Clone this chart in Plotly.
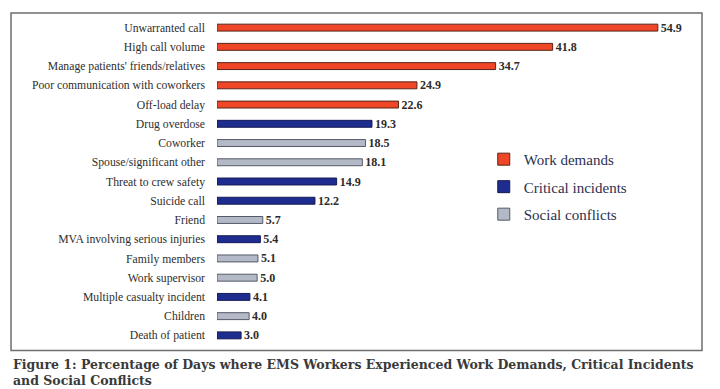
import plotly.graph_objects as go

categories = [
    "Unwarranted call", "High call volume", "Manage patients' friends/relatives",
    "Poor communication with coworkers", "Off-load delay", "Drug overdose",
    "Coworker", "Spouse/significant other", "Threat to crew safety", "Suicide call",
    "Friend", "MVA involving serious injuries", "Family members", "Work supervisor",
    "Multiple casualty incident", "Children", "Death of patient",
]
values = [54.9, 41.8, 34.7, 24.9, 22.6, 19.3, 18.5, 18.1, 14.9, 12.2,
          5.7, 5.4, 5.1, 5.0, 4.1, 4.0, 3.0]
groups = ["Work demands"] * 5 + [
    "Critical incidents", "Social conflicts", "Social conflicts", "Critical incidents",
    "Critical incidents", "Social conflicts", "Critical incidents", "Social conflicts",
    "Social conflicts", "Critical incidents", "Social conflicts", "Critical incidents",
]
group_names = ["Work demands", "Critical incidents", "Social conflicts"]
group_colors = {"Work demands": "#EE4626", "Critical incidents": "#1F2C8F",
                "Social conflicts": "#B3B9C7"}
group_lines = {"Work demands": "#5a2418", "Critical incidents": "#141c55",
               "Social conflicts": "#555a66"}

fig = go.Figure()
for g in group_names:
    ys = [c for c, gg in zip(categories, groups) if gg == g]
    xs = [v for v, gg in zip(values, groups) if gg == g]
    fig.add_trace(go.Bar(
        x=xs, y=ys, orientation="h", name=g, legendgroup=g,
        width=0.36,
        marker=dict(color=group_colors[g], line=dict(color=group_lines[g], width=1)),
        text=[f"{v:.1f}" for v in xs], textposition="outside",
        textfont=dict(family="Liberation Serif", size=12, color="#2b2b2b"),
        texttemplate="<b>%{text}</b>", constraintext="none", cliponaxis=False,
    ))

fig.update_layout(
    width=720, height=389,
    margin=dict(l=217, r=18, t=18, b=44),
    paper_bgcolor="white", plot_bgcolor="white",
    barmode="overlay",
    showlegend=True,
    legend=dict(x=0.55, y=0.618, xanchor="left", yanchor="top",
                traceorder="grouped", tracegroupgap=5,
                font=dict(family="Liberation Serif", size=15, color="#2c3050"),
                bgcolor="rgba(0,0,0,0)"),
    xaxis=dict(range=[0, 60.4], visible=False, showgrid=False, zeroline=False),
    yaxis=dict(categoryorder="array", categoryarray=categories,
               range=[16.5, -0.5], showgrid=False, zeroline=False, showline=False,
               ticks="", ticklabelstandoff=11,
               tickfont=dict(family="Liberation Serif", size=11.7, color="#2e2e2e")),
    font=dict(family="Liberation Serif"),
)

# frame around the chart
fig.add_shape(type="rect", xref="paper", yref="paper",
              x0=-0.4247, x1=1.0, y0=-0.0165, y1=1.0156,
              line=dict(color="#6e6e6e", width=1.5), fillcolor="rgba(0,0,0,0)")

fig.add_annotation(
    xref="paper", yref="paper", x=-0.4247, y=-0.031, xanchor="left", yanchor="top",
    align="left", showarrow=False,
    text="<b>Figure 1: Percentage of Days where EMS Workers Experienced Work Demands, Critical Incidents<br>and Social Conflicts</b>",
    font=dict(family="DejaVu Serif", size=12.5, color="#3a3a3a"),
)

fig.write_html("out.html", config={"displayModeBar": False},
               post_script="document.body.style.margin='0';")
